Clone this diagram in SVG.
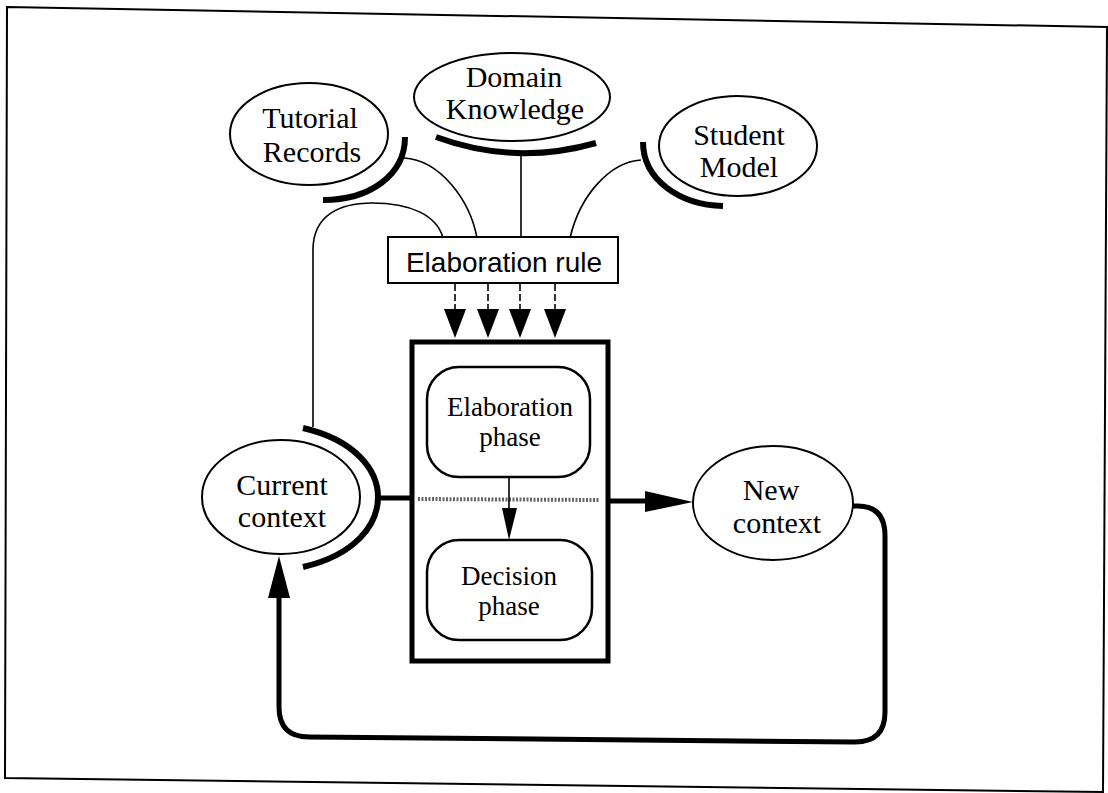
<svg xmlns="http://www.w3.org/2000/svg" width="1108" height="793" viewBox="0 0 1108 793">
<defs>
<style>
.ell{fill:#fff;stroke:#000;stroke-width:2}
.st{font-family:"Liberation Serif","Times New Roman",serif;font-size:30px;fill:#000;text-anchor:middle}
.st2{font-family:"Liberation Serif","Times New Roman",serif;font-size:27px;fill:#000;text-anchor:middle}
.ss{font-family:"Liberation Sans",Arial,sans-serif;font-size:28px;fill:#000;text-anchor:middle}
.arc{fill:none;stroke:#000;stroke-width:6;stroke-linecap:butt}
.thin{fill:none;stroke:#000;stroke-width:1.6}
.thick{fill:none;stroke:#000;stroke-width:5}
.dash{fill:none;stroke:#000;stroke-width:1.6;stroke-dasharray:7 3}
.head{fill:#000;stroke:none}
</style>
</defs>
<rect width="1108" height="793" fill="#fff"/>
<polygon points="7,7 1107,27 1103,792 5,778" fill="none" stroke="#000" stroke-width="2"/>

<g id="tutorial-records">
<ellipse class="ell" cx="309" cy="134" rx="79" ry="51"/>
<text class="st" x="310" y="128">Tutorial</text>
<text class="st" x="312" y="162">Records</text>
<path class="arc" d="M405,137 C405,175 370,200 323,200"/>
</g>
<g id="domain-knowledge">
<ellipse class="ell" cx="512" cy="97" rx="98" ry="44"/>
<text class="st" x="514" y="87">Domain</text>
<text class="st" x="515" y="119">Knowledge</text>
<path class="arc" d="M436,137 Q515,166 596,143"/>
</g>
<g id="student-model">
<ellipse class="ell" cx="738" cy="146" rx="79" ry="50"/>
<text class="st" x="739" y="145">Student</text>
<text class="st" x="739" y="177">Model</text>
<path class="arc" d="M643,142 C643,180 680,205 723,206"/>
</g>
<g id="elaboration-rule">
<rect x="388" y="237" width="230" height="46" fill="#fff" stroke="#000" stroke-width="2"/>
<text class="ss" x="504" y="272">Elaboration rule</text>
</g>
<g id="process-box">
<rect x="412" y="342" width="196" height="319" fill="none" stroke="#000" stroke-width="5"/>
</g>
<g id="elaboration-phase">
<rect x="427" y="367" width="163" height="110" rx="32" fill="#fff" stroke="#000" stroke-width="2.5"/>
<text class="st2" x="510" y="416">Elaboration</text>
<text class="st2" x="510" y="446">phase</text>
</g>
<g id="decision-phase">
<rect x="427" y="540" width="165" height="100" rx="32" fill="#fff" stroke="#000" stroke-width="2.5"/>
<text class="st2" x="509" y="585">Decision</text>
<text class="st2" x="509" y="615">phase</text>
</g>
<g id="current-context">
<ellipse class="ell" cx="281" cy="497" rx="79" ry="57"/>
<text class="st" x="282" y="495">Current</text>
<text class="st" x="282" y="527">context</text>
<path class="arc" d="M303,428 C355,440 378,470 378,497 C378,525 355,555 303,567"/>
</g>
<g id="new-context">
<ellipse class="ell" cx="773" cy="503" rx="80" ry="57"/>
<text class="st" x="771" y="500">New</text>
<text class="st" x="777" y="533">context</text>
</g>

<g id="connectors">
<path class="thin" d="M404,158 C440,160 470,200 477,238"/>
<path class="thin" d="M521,152 L521,238"/>
<path class="thin" d="M641,160 C610,162 580,195 570,238"/>
<path class="thin" d="M313,427 L313,250 C313,215 340,203 372,203 C410,203 437,215 443,238"/>

<path class="dash" d="M455,284 L455,310"/>
<path class="dash" d="M488,284 L488,310"/>
<path class="dash" d="M520,284 L520,310"/>
<path class="dash" d="M555,284 L555,310"/>
<polygon class="head" points="444,309 466,309 455,338"/>
<polygon class="head" points="477,309 499,309 488,338"/>
<polygon class="head" points="509,309 531,309 520,338"/>
<polygon class="head" points="544,309 566,309 555,338"/>

<path d="M418,499 L600,500" fill="none" stroke="#666" stroke-width="4" stroke-dasharray="2 1.5"/>

<path class="thin" d="M509,477 L509,510"/>
<polygon class="head" points="502,508 517,508 509,540"/>

<path class="thick" d="M378,498 L412,498"/>
<path class="thick" d="M608,501 L650,501"/>
<polygon class="head" points="645,491 645,512 693,502"/>

<path class="thick" d="M852,506 L858,506 Q885,506 885,536 L885,712 Q885,742 855,742 L309,737 Q279,737 279,707 L279,595"/>
<polygon class="head" points="268,598 290,598 279,556"/>
</g>
</svg>
